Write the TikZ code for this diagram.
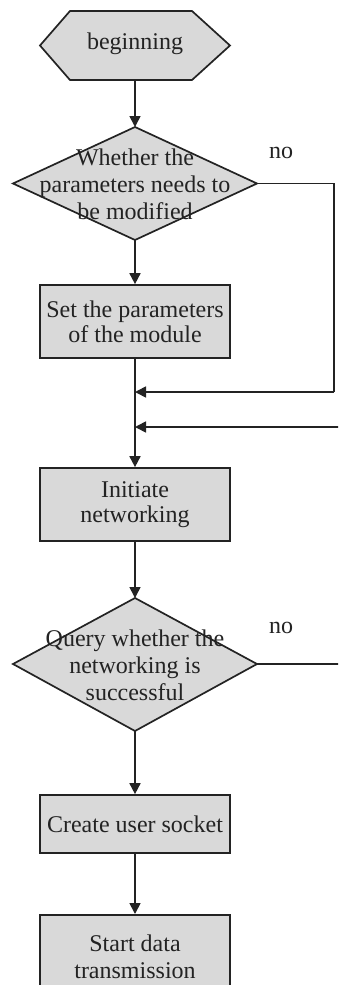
\documentclass[tikz,border=0pt]{standalone}
\usepackage{fontspec}
\setmainfont{Liberation Serif}
\usetikzlibrary{arrows.meta}
\definecolor{boxfill}{RGB}{217,217,217}
\definecolor{linec}{RGB}{35,35,35}
\begin{document}
\begin{tikzpicture}[x=1pt,y=-1pt,
  shapeline/.style={draw=linec,line width=1.7pt,fill=boxfill,line join=miter},
  procbox/.style={shapeline,rectangle,minimum width=190pt,minimum height=73pt,inner sep=0pt,align=center,
    font=\fontsize{24}{25}\selectfont,text=linec},
  txt/.style={align=center,font=\fontsize{24}{27}\selectfont,text=linec,inner sep=0pt},
  conn/.style={draw=linec,line width=1.7pt,-{Triangle[width=11pt,length=11pt]}},
  plain/.style={draw=linec,line width=1.7pt}]
\clip (0,0) rectangle (338,985);
\fill[white] (0,0) rectangle (338,985);
% start hexagon
\coordinate (hexn) at (135,11);
\coordinate (hexs) at (135,80);
\filldraw[shapeline] (70,11) -- (192,11) -- (230,45.5) -- (192,80) -- (70,80) -- (40,45.5) -- cycle;
\node[txt] (start) at (135,44) {beginning};
% decision 1
\coordinate (d1n) at (135,127);
\coordinate (d1s) at (135,240);
\coordinate (d1e) at (257,183.5);
\filldraw[shapeline] (d1n) -- (d1e) -- (d1s) -- (13,183.5) -- cycle;
\node[txt] (dec1) at (135,184) {Whether the\\parameters needs to\\be modified};
\node[txt] (no1) at (281,153) {no};
% box 1
\node[procbox,minimum height=73pt] (set) at (135,321.5) {Set the parameters\\of the module};
% merge points
\coordinate (m1) at (135,392);
\coordinate (m2) at (135,427);
\coordinate (r1) at (334,183.5);
\coordinate (r1b) at (334,392);
\coordinate (r2) at (340,427);
% box 2
\node[procbox,minimum height=73pt] (init) at (135,504.5) {Initiate\\networking};
% decision 2
\coordinate (d2n) at (135,598);
\coordinate (d2s) at (135,731);
\coordinate (d2e) at (257,664);
\filldraw[shapeline] (d2n) -- (d2e) -- (d2s) -- (13,664) -- cycle;
\node[txt] (dec2) at (135,665) {Query whether the\\networking is\\successful};
\node[txt] (no2) at (281,628) {no};
\coordinate (d2r) at (340,664);
% box 3
\node[procbox,minimum height=58pt] (sock) at (135,824) {Create user socket};
% box 4
\node[procbox,minimum height=100pt,anchor=north] (data) at (135,914) {};
\node[txt] (datatxt) at (135,957) {Start data\\transmission};
% connectors
\draw[conn] (hexs) -- (d1n);
\draw[conn] (d1s) -- (set.north);
\draw[plain] (d1e) -- (r1) -- (r1b);
\draw[conn] (r1b) -- (m1);
\draw[conn] (r2) -- (m2);
\draw[conn] (set.south) -- (init.north);
\draw[conn] (init.south) -- (d2n);
\draw[plain] (d2e) -- (d2r);
\draw[conn] (d2s) -- (sock.north);
\draw[conn] (sock.south) -- (data.north);
\end{tikzpicture}
\end{document}
